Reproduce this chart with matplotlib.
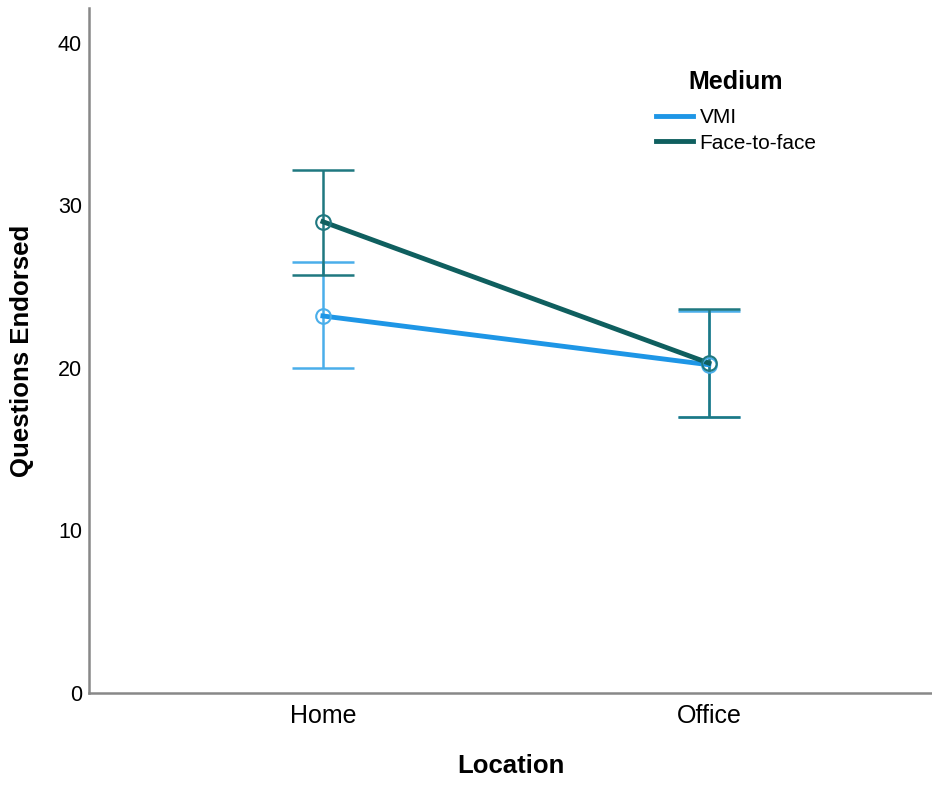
import matplotlib.pyplot as plt

plt.rcParams['font.family'] = ['Liberation Sans', 'DejaVu Sans']

# data
locations = ['Home', 'Office']
vmi_mean = [23.2, 20.2]
vmi_low = [20.0, 17.0]
vmi_high = [26.5, 23.5]
f2f_mean = [29.0, 20.3]
f2f_low = [25.7, 17.0]
f2f_high = [32.2, 23.6]

vmi_color = '#1e96e6'
vmi_err = '#4aaeea'
f2f_color = '#0f5f5f'
f2f_err = '#1f7880'

fig = plt.figure(figsize=(9.32, 7.85), dpi=100)
ax = fig.add_axes([0.0955, 0.1172, 0.9045, 0.8726])

x = list(range(len(locations)))


def draw_series(means, lows, highs, line_c, err_c, label):
    yerr = [[m - l for m, l in zip(means, lows)], [h - m for m, h in zip(means, highs)]]
    ax.errorbar(x, means, yerr=yerr, fmt='none', ecolor=err_c, elinewidth=1.8,
                capsize=22, capthick=1.8, zorder=2)
    ax.plot(x, means, color=line_c, linewidth=3.5, label=label, zorder=3)
    ax.plot(x, means, 'o', markersize=10.5, markerfacecolor='none',
            markeredgecolor=err_c, markeredgewidth=1.5, zorder=4)


draw_series(vmi_mean, vmi_low, vmi_high, vmi_color, vmi_err, 'VMI')
draw_series(f2f_mean, f2f_low, f2f_high, f2f_color, f2f_err, 'Face-to-face')

ax.set_xlim(-0.606, 1.578)
ax.set_ylim(0, 42.15)
ax.set_xticks(x)
ax.set_xticklabels(locations)
ax.set_yticks([0, 10, 20, 30, 40])
ax.tick_params(axis='x', length=0, pad=8, labelsize=18)
ax.tick_params(axis='y', length=0, pad=5, labelsize=15.5)

for side in ['top', 'right']:
    ax.spines[side].set_visible(False)
for side in ['left', 'bottom']:
    ax.spines[side].set_color('#888888')
    ax.spines[side].set_linewidth(1.8)

ax.set_xlabel('Location', fontsize=18.5, fontweight='bold', labelpad=19)
ax.set_ylabel('Questions Endorsed', fontsize=18.5, fontweight='bold', labelpad=17)

leg = ax.legend(loc='upper left', bbox_to_anchor=(0.65, 0.937), frameon=False,
                title='Medium', title_fontproperties={'weight': 'bold', 'size': 18},
                fontsize=15, handlelength=1.8, handletextpad=0.3, labelspacing=0.33)
leg._legend_box.align = 'center'
leg._legend_box.sep = 10

fig.savefig('out.png', dpi=100)
